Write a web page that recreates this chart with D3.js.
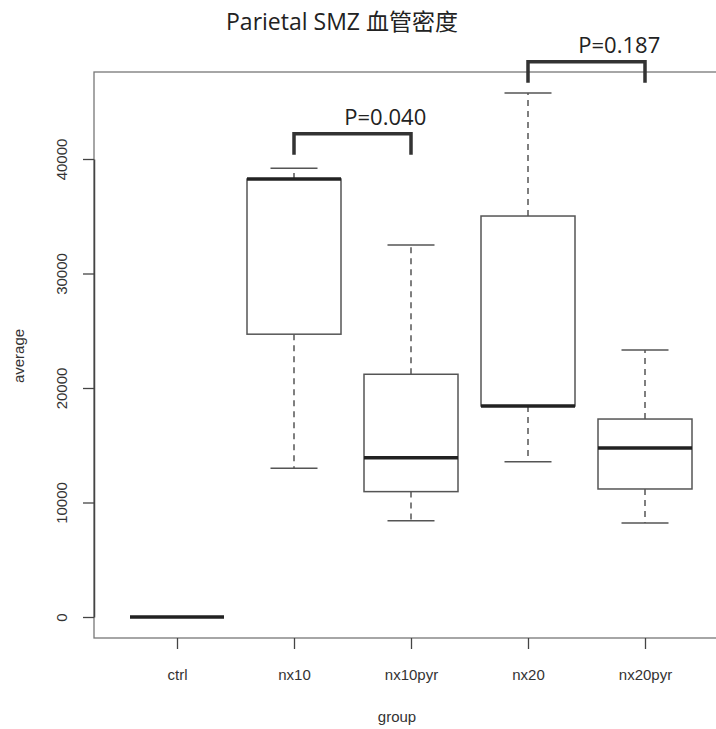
<!DOCTYPE html>
<html>
<head>
<meta charset="utf-8">
<script src="https://cdn.jsdelivr.net/npm/d3@7"></script>
<style>
  body { margin: 0; background: #fff; }
</style>
</head>
<body>
<div id="chart"></div>
<script>
// Boxplot of vessel density per group
const groups = ["ctrl", "nx10", "nx10pyr", "nx20", "nx20pyr"];
const whiskerLow = [0, 13000, 8400, 13550, 8200];
const q1 = [0, 24700, 10950, 18430, 11180];
const median = [0, 38250, 13900, 18430, 14760];
const q3 = [0, 38250, 21200, 35020, 17290];
const whiskerHigh = [0, 39200, 32500, 45770, 23320];
const yTicks = [0, 10000, 20000, 30000, 40000];

// significance brackets: [from group, to group, label]
const brackets = [
    { from: "nx10", to: "nx10pyr", label: "P=0.040", top: 42200, textAt: 0.78 },
    { from: "nx20", to: "nx20pyr", label: "P=0.187", top: 48500, textAt: 0.78 }
];

const boxes = groups.map((g, i) => ({
    group: g,
    lo: whiskerLow[i], q1: q1[i], med: median[i], q3: q3[i], hi: whiskerHigh[i]
}));

const width = 716;
const height = 729;
const margin = { top: 72, right: -40, bottom: 91, left: 94 };
const axisFont = "Liberation Sans, Arial, sans-serif";

const svg = d3.select("#chart").append("svg")
    .attr("width", width)
    .attr("height", height);

const x = d3.scalePoint()
    .domain(groups)
    .range([177, 645]);

const y = d3.scaleLinear()
    .domain([0, 40000])
    .range([617, 159]);

const boxW = 94;
const grey = "#555";

// plot frame (right side runs off the picture)
svg.append("rect")
    .attr("x", margin.left)
    .attr("y", margin.top)
    .attr("width", width - margin.left - margin.right)
    .attr("height", height - margin.bottom - margin.top)
    .attr("fill", "none")
    .attr("stroke", "#777")
    .attr("stroke-width", 1.3);

const g = svg.selectAll(".box")
    .data(boxes)
    .join("g")
    .attr("class", "box");

// whiskers
g.append("line")
    .attr("x1", d => x(d.group)).attr("x2", d => x(d.group))
    .attr("y1", d => y(d.q3)).attr("y2", d => y(d.hi))
    .attr("stroke", grey).attr("stroke-width", 1.5)
    .attr("stroke-dasharray", "6,5");
g.append("line")
    .attr("x1", d => x(d.group)).attr("x2", d => x(d.group))
    .attr("y1", d => y(d.q1)).attr("y2", d => y(d.lo))
    .attr("stroke", grey).attr("stroke-width", 1.5)
    .attr("stroke-dasharray", "6,5");

// whisker caps
[d => d.hi, d => d.lo].forEach(acc => {
    g.filter(d => d.hi > d.lo).append("line")
        .attr("x1", d => x(d.group) - boxW / 4).attr("x2", d => x(d.group) + boxW / 4)
        .attr("y1", d => y(acc(d))).attr("y2", d => y(acc(d)))
        .attr("stroke", grey).attr("stroke-width", 1.5);
});

// boxes
g.filter(d => d.q3 > d.q1).append("rect")
    .attr("x", d => x(d.group) - boxW / 2)
    .attr("y", d => y(d.q3))
    .attr("width", boxW)
    .attr("height", d => y(d.q1) - y(d.q3))
    .attr("fill", "#fff")
    .attr("stroke", grey)
    .attr("stroke-width", 1.5);

// medians
g.append("line")
    .attr("x1", d => x(d.group) - boxW / 2).attr("x2", d => x(d.group) + boxW / 2)
    .attr("y1", d => y(d.med)).attr("y2", d => y(d.med))
    .attr("stroke", "#222").attr("stroke-width", 3.5);

// axes
const yAxis = svg.append("g")
    .attr("transform", `translate(${margin.left},0)`)
    .call(d3.axisLeft(y).tickValues(yTicks).tickFormat(d3.format("d")).tickSize(11).tickSizeOuter(0));
yAxis.select(".domain").attr("stroke", "#444").attr("stroke-width", 1.5);
yAxis.selectAll(".tick line").attr("stroke", "#444").attr("stroke-width", 1.3);
yAxis.selectAll(".tick text")
    .attr("transform", "rotate(-90)")
    .attr("x", 0)
    .attr("y", -32)
    .attr("dy", "0.35em")
    .attr("text-anchor", "middle")
    .style("font-family", axisFont)
    .style("font-size", "15px")
    .attr("fill", "#333");

const xAxis = svg.append("g")
    .attr("transform", `translate(0,${height - margin.bottom})`)
    .call(d3.axisBottom(x).tickSize(11).tickSizeOuter(0).tickPadding(20));
xAxis.select(".domain").remove();
xAxis.selectAll(".tick line").attr("stroke", "#444").attr("stroke-width", 1.3);
xAxis.selectAll(".tick text")
    .style("font-family", axisFont)
    .style("font-size", "15px")
    .attr("fill", "#333");

// axis labels
svg.append("text")
    .attr("transform", "rotate(-90)")
    .attr("x", -356)
    .attr("y", 24)
    .attr("text-anchor", "middle")
    .style("font-family", axisFont)
    .style("font-size", "15px")
    .attr("fill", "#333")
    .text("average");

svg.append("text")
    .attr("x", 397)
    .attr("y", 722)
    .attr("text-anchor", "middle")
    .style("font-family", axisFont)
    .style("font-size", "15px")
    .attr("fill", "#333")
    .text("group");

// title
svg.append("text")
    .attr("x", 342)
    .attr("y", 30)
    .attr("text-anchor", "middle")
    .style("font-family", "'Open Sans', 'Noto Sans CJK SC', sans-serif")
    .style("font-size", "23px")
    .attr("fill", "#222")
    .text("Parietal SMZ 血管密度");

// significance brackets
brackets.forEach(b => {
    const x1 = x(b.from), x2 = x(b.to);
    const yt = y(b.top);
    svg.append("path")
        .attr("d", `M${x1},${yt + 21}V${yt}H${x2}V${yt + 21}`)
        .attr("fill", "none")
        .attr("stroke", "#333")
        .attr("stroke-width", 3.5);
    svg.append("text")
        .attr("x", x1 + (x2 - x1) * b.textAt)
        .attr("y", yt - 9)
        .attr("text-anchor", "middle")
        .style("font-family", "'Open Sans', sans-serif")
        .style("font-size", "22px")
        .attr("fill", "#222")
        .text(b.label);
});
</script>
</body>
</html>
